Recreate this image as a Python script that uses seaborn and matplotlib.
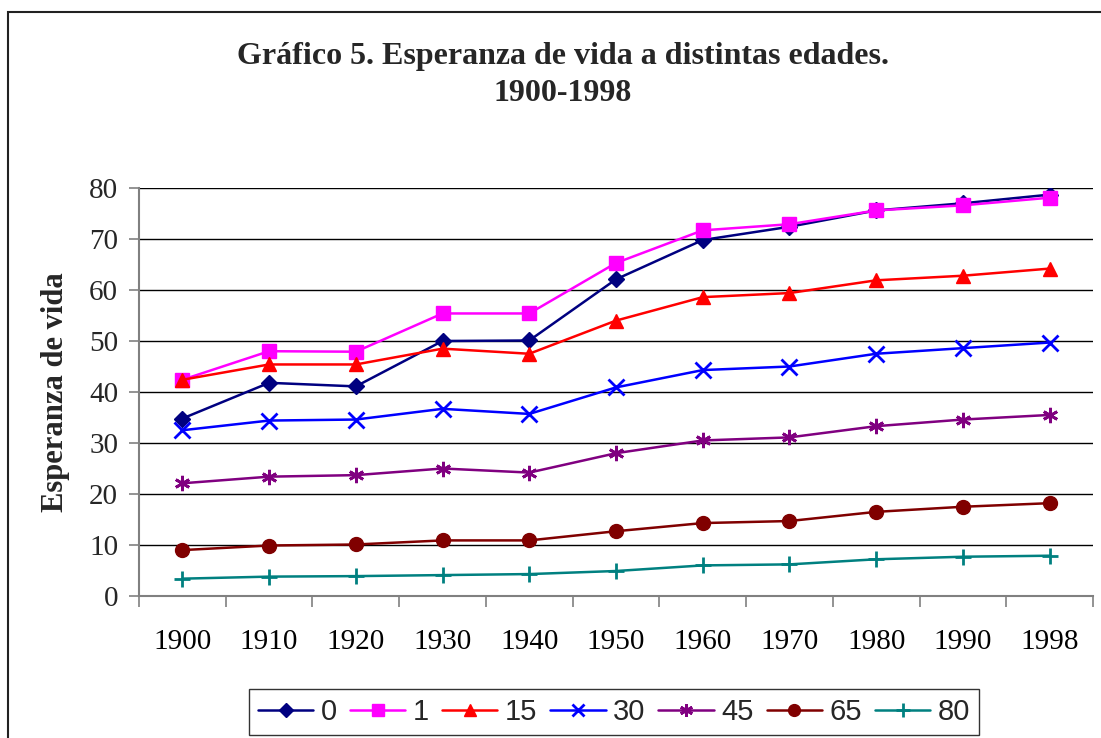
import matplotlib
matplotlib.use("Agg")
import matplotlib.pyplot as plt
import matplotlib.patches as mpatches
import seaborn as sns
import pandas as pd

# ---- data ----
years = ["1900", "1910", "1920", "1930", "1940", "1950", "1960", "1970", "1980", "1990", "1998"]
ages = ["0", "1", "15", "30", "45", "65", "80"]
e0  = [34.8, 41.8, 41.1, 50.0, 50.1, 62.1, 69.8, 72.4, 75.6, 77.0, 78.7]
e1  = [42.4, 48.0, 47.9, 55.4, 55.4, 65.3, 71.7, 72.9, 75.6, 76.6, 78.1]
e15 = [42.4, 45.4, 45.4, 48.5, 47.5, 54.0, 58.6, 59.4, 61.9, 62.8, 64.2]
e30 = [32.5, 34.4, 34.6, 36.7, 35.7, 40.9, 44.3, 45.0, 47.5, 48.6, 49.7]
e45 = [22.1, 23.4, 23.7, 25.0, 24.2, 28.0, 30.5, 31.1, 33.3, 34.6, 35.5]
e65 = [9.0, 9.9, 10.1, 10.9, 10.9, 12.7, 14.3, 14.7, 16.5, 17.5, 18.2]
e80 = [3.4, 3.8, 3.9, 4.1, 4.3, 4.9, 6.0, 6.2, 7.2, 7.7, 7.9]
series = [e0, e1, e15, e30, e45, e65, e80]

colors = ["#000080", "#FF00FF", "#FF0000", "#0000FF", "#800080", "#800000", "#008080"]
markers = ["D", "s", "^", "x", (6, 2, 0), "o", "+"]
msizes = [8, 10, 10, 11, 11, 10, 12]

rows = []
for a, vals in zip(ages, series):
    for y, v in zip(years, vals):
        rows.append({"Año": y, "Esperanza": v, "Edad": a})
df = pd.DataFrame(rows)

sns.set_theme(style="white")
plt.rcParams["font.family"] = ["Liberation Serif", "DejaVu Serif"]

fig = plt.figure(figsize=(11.01, 7.38), dpi=100)
ax = fig.add_axes([139 / 1101, 1 - 596 / 738, (1093 - 139) / 1101, (596 - 188) / 738])

sns.pointplot(data=df, x="Año", y="Esperanza", hue="Edad", order=years, hue_order=ages,
              palette=colors, markers=markers, linestyles="-", errorbar=None,
              ax=ax, linewidth=1.8)

plot_lines = [ln for ln in ax.lines if len(ln.get_xdata()) == len(years)][:len(ages)]
for ln, c, m, ms in zip(plot_lines, colors, markers, msizes):
    ln.set_color(c)
    ln.set_marker(m)
    ln.set_markersize(ms)
    ln.set_markerfacecolor(c)
    ln.set_markeredgecolor(c)
    ln.set_markeredgewidth(2.0 if m in ("x", "+") or isinstance(m, tuple) else 1.0)
    ln.set_linewidth(1.8)
    ln.set_zorder(3)

if ax.get_legend() is not None:
    ax.get_legend().remove()

ax.set_xlim(-0.5, len(years) - 0.5)
ax.set_ylim(0, 80)
ax.set_yticks(range(0, 81, 10))
ax.yaxis.grid(True, color="black", linewidth=1.0)
ax.xaxis.grid(False)
ax.set_axisbelow(True)
for s in ["top", "right"]:
    ax.spines[s].set_visible(False)
ax.spines["left"].set_color("#808080")
ax.spines["bottom"].set_color("#808080")
ax.spines["left"].set_linewidth(1.5)
ax.spines["bottom"].set_linewidth(1.5)

ax.set_xticks(range(len(years)))
ax.set_xticklabels(years)
ax.set_xticks([i - 0.5 for i in range(len(years) + 1)], minor=True)
ax.tick_params(axis="x", which="major", length=0, pad=24, labelsize=21, colors="black")
ax.tick_params(axis="x", which="minor", length=8, width=1.2, direction="out", color="#808080", bottom=True)
ax.tick_params(axis="y", which="major", length=7, width=1.2, direction="out", color="#808080",
               pad=8, labelsize=21, left=True)
ax.set_xlabel("")
ax.set_ylabel("Esperanza de vida", fontsize=22, fontweight="bold", labelpad=14)

fig.text(0.511, 1 - 42 / 738, "Gráfico 5. Esperanza de vida a distintas edades.\n1900-1998",
         ha="center", va="top", fontsize=23, fontweight="bold", linespacing=1.35)

leg = fig.legend(plot_lines, ages, loc="center", bbox_to_anchor=(614 / 1101, 1 - 712 / 738),
                 ncol=len(ages), frameon=True, fancybox=False, edgecolor="black",
                 prop={"family": ["Liberation Sans", "DejaVu Sans"], "size": 21},
                 handlelength=1.9, handletextpad=0.25, columnspacing=0.45, borderpad=0.3,
                 borderaxespad=0)
leg.get_frame().set_linewidth(1.0)
for h in leg.legend_handles:
    h.set_markersize(h.get_markersize() * 0.85)

border = mpatches.Rectangle((8 / 1101, -0.1), 1.2, 1 - 12 / 738 + 0.1, transform=fig.transFigure,
                            fill=False, edgecolor="#222222", linewidth=1.5)
fig.patches.append(border)

fig.savefig("out.png", dpi=100)
